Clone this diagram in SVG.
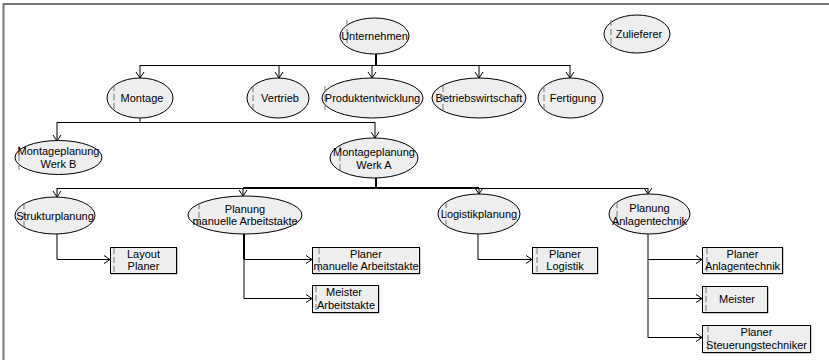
<svg xmlns="http://www.w3.org/2000/svg" width="829" height="360" viewBox="0 0 829 360">
<defs>
<marker id="arr" markerUnits="userSpaceOnUse" markerWidth="10" markerHeight="10" refX="6" refY="4.5" orient="auto">
<path d="M0,0.5 L6,4.5 L0,8.5" fill="none" stroke="#000" stroke-width="1"/>
</marker>
</defs>
<style>
.bg{fill:#fff}
.frame{stroke:#777;stroke-width:2;fill:none}
.el{fill:#eeeeee;stroke:#000;stroke-width:1}
.bx{fill:#eeeeee;stroke:#000;stroke-width:1}
.sh{fill:none;stroke:#999;stroke-width:1}
.cur{stroke:#777;stroke-width:1;stroke-dasharray:6 3;fill:none}
.t{font-family:"Liberation Sans",Arial,sans-serif;font-size:11px;fill:#000;text-anchor:middle;dominant-baseline:central}
.c{fill:none;stroke:#000;stroke-width:1}
.ca{fill:none;stroke:#000;stroke-width:1;marker-end:url(#arr)}
.thick{fill:none;stroke:#000;stroke-width:2}
</style>
<rect class="bg" x="0" y="0" width="829" height="360"/>
<path class="frame" d="M3.5,360 V4 H829"/>

<g id="connectors">
<path class="thick" d="M376,54 V65"/>
<path class="c" d="M140,65.5 H570"/>
<path class="ca" d="M140,65 V78"/>
<path class="ca" d="M279,65 V78"/>
<path class="ca" d="M372,65 V78"/>
<path class="ca" d="M479,65 V78"/>
<path class="ca" d="M570,65 V78"/>
<path class="c" d="M140,118 V122.5"/>
<path class="c" d="M57,122.5 H375"/>
<path class="ca" d="M57,122 V141"/>
<path class="ca" d="M375,122 V138"/>
<path class="thick" d="M376,178 V188"/>
<path class="c" d="M57,188.5 H648"/>
<path class="thick" d="M243,188 H479"/>
<path class="ca" d="M57,188 V197"/>
<path class="ca" d="M243,188 V196"/>
<path class="ca" d="M479,188 V194"/>
<path class="ca" d="M648,188 V194"/>
<path class="ca" d="M57,234 V259.5 H110"/>
<path class="thick" d="M244,234 V259"/>
<path class="ca" d="M244,259.5 H312"/>
<path class="ca" d="M244,259 V298.5 H312"/>
<path class="ca" d="M478,234 V259.5 H532"/>
<path class="c" d="M648,234 V337.5"/>
<path class="ca" d="M648,259.5 H702"/>
<path class="ca" d="M648,298.5 H702"/>
<path class="ca" d="M648,337.5 H702"/>
</g>

<g id="unternehmen">
<ellipse class="el" cx="374.5" cy="36" rx="34.5" ry="18"/>
<path class="cur" d="M347,20 V43"/>
<text class="t" x="374.5" y="36">Unternehmen</text>
</g>
<g id="zulieferer">
<ellipse class="el" cx="637" cy="34" rx="33" ry="19"/>
<path class="cur" d="M611,20 V48"/>
<text class="t" x="639" y="34">Zulieferer</text>
</g>
<g id="montage">
<ellipse class="el" cx="140" cy="98" rx="33" ry="20"/>
<path class="cur" d="M114,85 V110"/>
<text class="t" x="142" y="98">Montage</text>
</g>
<g id="vertrieb">
<ellipse class="el" cx="278" cy="98" rx="31" ry="20"/>
<path class="cur" d="M253,86 V112"/>
<text class="t" x="280" y="98">Vertrieb</text>
</g>
<g id="produktentwicklung">
<ellipse class="el" cx="372.5" cy="98" rx="50.5" ry="20"/>
<path class="cur" d="M325,86 V112"/>
<text class="t" x="372.5" y="98">Produktentwicklung</text>
</g>
<g id="betriebswirtschaft">
<ellipse class="el" cx="479" cy="98" rx="47" ry="20"/>
<path class="cur" d="M443,86 V112"/>
<text class="t" x="479" y="98">Betriebswirtschaft</text>
</g>
<g id="fertigung">
<ellipse class="el" cx="570.5" cy="98" rx="32.5" ry="20"/>
<path class="cur" d="M544,86 V112"/>
<text class="t" x="573" y="98">Fertigung</text>
</g>
<g id="montageplanung-werk-b">
<ellipse class="el" cx="58.5" cy="157.5" rx="43.5" ry="17"/>
<path class="cur" d="M19,146 V170"/>
<text class="t" x="58.5" y="151">Montageplanung</text>
<text class="t" x="58.5" y="164">Werk B</text>
</g>
<g id="montageplanung-werk-a">
<ellipse class="el" cx="374" cy="158" rx="44" ry="20"/>
<path class="cur" d="M340,146 V172"/>
<text class="t" x="374" y="152">Montageplanung</text>
<text class="t" x="374" y="165">Werk A</text>
</g>
<g id="strukturplanung">
<ellipse class="el" cx="55" cy="215.5" rx="40" ry="18.5"/>
<path class="cur" d="M24,203 V229"/>
<text class="t" x="55" y="215.5">Strukturplanung</text>
</g>
<g id="planung-manuelle-arbeitstakte">
<ellipse class="el" cx="245" cy="215" rx="57" ry="19"/>
<path class="cur" d="M199,203 V229"/>
<text class="t" x="245" y="209">Planung</text>
<text class="t" x="245" y="221">manuelle Arbeitstakte</text>
</g>
<g id="logistikplanung">
<ellipse class="el" cx="479" cy="214" rx="41" ry="20"/>
<path class="cur" d="M446,202 V228"/>
<text class="t" x="479" y="214">Logistikplanung</text>
</g>
<g id="planung-anlagentechnik">
<ellipse class="el" cx="649.5" cy="214" rx="40.5" ry="20"/>
<path class="cur" d="M617,202 V228"/>
<text class="t" x="649.5" y="208">Planung</text>
<text class="t" x="649.5" y="221">Anlagentechnik</text>
</g>

<g id="layout-planer">
<path class="sh" d="M177,248 V274 H111"/>
<rect class="bx" x="110.5" y="247.5" width="66" height="26"/>
<path class="cur" d="M114,248 V273"/>
<text class="t" x="143.5" y="254">Layout</text>
<text class="t" x="143.5" y="266">Planer</text>
</g>
<g id="planer-manuelle-arbeitstakte">
<path class="sh" d="M420,248 V274 H313"/>
<rect class="bx" x="312.5" y="247.5" width="107" height="26"/>
<path class="cur" d="M319,248 V273"/>
<text class="t" x="366" y="254">Planer</text>
<text class="t" x="366" y="266">manuelle Arbeitstakte</text>
</g>
<g id="meister-arbeitstakte">
<path class="sh" d="M379,286 V313 H313"/>
<rect class="bx" x="312.5" y="285.5" width="66" height="27"/>
<path class="cur" d="M316,286 V312"/>
<text class="t" x="344" y="292">Meister</text>
<text class="t" x="346" y="305">Arbeitstakte</text>
</g>
<g id="planer-logistik">
<path class="sh" d="M598,248 V274 H533"/>
<rect class="bx" x="532.5" y="247.5" width="65" height="26"/>
<path class="cur" d="M537,248 V273"/>
<text class="t" x="565" y="254">Planer</text>
<text class="t" x="565" y="266">Logistik</text>
</g>
<g id="planer-anlagentechnik">
<path class="sh" d="M783,248 V274 H703"/>
<rect class="bx" x="702.5" y="247.5" width="80" height="26"/>
<path class="cur" d="M707,248 V273"/>
<text class="t" x="742.5" y="254">Planer</text>
<text class="t" x="742.5" y="266">Anlagentechnik</text>
</g>
<g id="meister">
<path class="sh" d="M768,287 V313 H703"/>
<rect class="bx" x="702.5" y="286.5" width="65" height="26"/>
<path class="cur" d="M706,287 V312"/>
<text class="t" x="737" y="299">Meister</text>
</g>
<g id="planer-steuerungstechniker">
<path class="sh" d="M811,326 V353 H703"/>
<rect class="bx" x="702.5" y="325.5" width="108" height="27"/>
<path class="cur" d="M708,326 V352"/>
<text class="t" x="756.5" y="332">Planer</text>
<text class="t" x="756.5" y="345">Steuerungstechniker</text>
</g>
</svg>
